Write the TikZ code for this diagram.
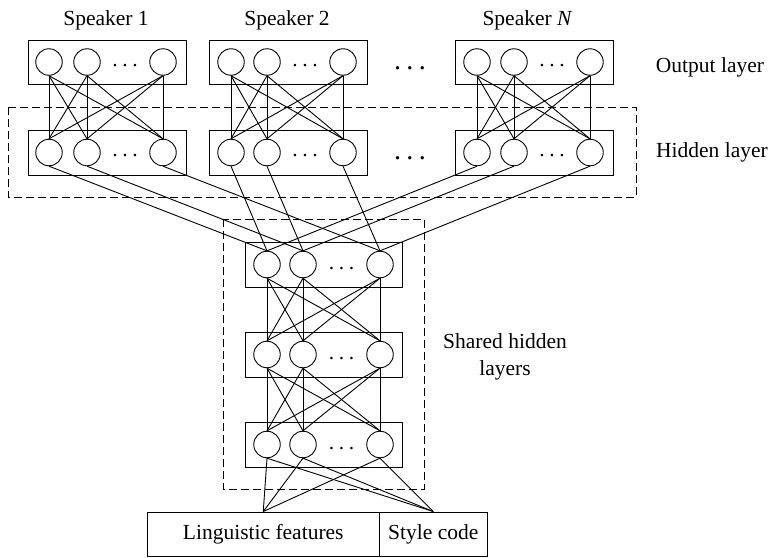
\documentclass[tikz,border=0pt]{standalone}
\usepackage{fontspec}
\setmainfont{Liberation Serif}
\newcommand{\mydots}[1]{.\kern#1.\kern#1.}
\begin{document}
\begin{tikzpicture}[x=1pt,y=-1pt,
  neuron/.style={circle,draw,minimum size=26.5pt,inner sep=0pt,line width=0.9pt,fill=white},
  layerbox/.style={draw,line width=0.9pt},
  conn/.style={line width=0.9pt},
  grp/.style={draw,dash pattern=on 8pt off 4pt,line width=0.9pt},
  lbl/.style={font=\fontsize{21.5}{27}\selectfont,inner sep=0pt},
  boxdots/.style={font=\fontsize{21.5}{25}\selectfont,inner sep=0pt},
  bigdots/.style={font=\fontsize{28}{30}\selectfont,inner sep=0pt},
  inbox/.style={draw,line width=0.9pt,minimum height=44pt,inner sep=0pt,font=\fontsize{21.5}{25}\selectfont}]
\useasboundingbox (0,0) rectangle (771,557);

% dashed groups
\draw[grp] (8,107) rectangle (636,197);
\draw[grp] (223,219) rectangle (424,489);

% speaker columns
\foreach \s/\l/\a/\b/\c in {1/28/49/87/163, 2/209/231/267/343, 3/455/477/514/590} {
  \draw[layerbox] (\l,40) rectangle ++(158,44);
  \draw[layerbox] (\l,130) rectangle ++(158,45);
  \node[neuron] (o\s a) at (\a,62) {};
  \node[neuron] (o\s b) at (\b,62) {};
  \node[neuron] (o\s c) at (\c,62) {};
  \node[neuron] (h\s a) at (\a,152.5) {};
  \node[neuron] (h\s b) at (\b,152.5) {};
  \node[neuron] (h\s c) at (\c,152.5) {};
  \node[boxdots] (od\s) at ({(\b+\c)/2},66) {\mydots{4.6pt}};
  \node[boxdots] (hd\s) at ({(\b+\c)/2},156) {\mydots{4.6pt}};
}

% shared layers
\foreach \n/\y in {t/264.5, m/354.5, b/444.5} {
  \draw[layerbox] (245,\y-22.5) rectangle (402,\y+22.5);
  \node[neuron] (\n a) at (267,\y) {};
  \node[neuron] (\n b) at (303,\y) {};
  \node[neuron] (\n c) at (380,\y) {};
  \node[boxdots] (\n d) at (341.5,\y+4) {\mydots{4.6pt}};
}

% big dots between speakers
\node[bigdots] (dots1) at (410,68) {\mydots{5.5pt}};
\node[bigdots] (dots2) at (410,158) {\mydots{5.5pt}};

% connections inside speaker columns
\foreach \s in {1,2,3} {
  \foreach \i in {a,b,c} {
    \foreach \j in {a,b,c} {
      \draw[conn] (o\s\i.south) -- (h\s\j.north);
    }
    \draw[conn] (h\s\i.south) -- (t\i.north);
  }
}

% shared connections
\foreach \i in {a,b,c} {
  \foreach \j in {a,b,c} {
    \draw[conn] (t\i.south) -- (m\j.north);
    \draw[conn] (m\i.south) -- (b\j.north);
  }
}

% input
\node[inbox,minimum width=232.5pt] (ling) at (263.25,534) {Linguistic features};
\node[inbox,minimum width=107.5pt] (style) at (433.25,534) {Style code};
\foreach \i in {a,b,c} {
  \draw[conn] (b\i.south) -- (ling.north);
  \draw[conn] (b\i.south) -- (style.north);
}

% labels
\node[lbl,anchor=base] (sp1) at (106,25) {Speaker 1};
\node[lbl,anchor=base] (sp2) at (287,25) {Speaker 2};
\node[lbl,anchor=base] (spn) at (527.5,25) {Speaker \textit{N}};
\node[lbl,anchor=base] (outl) at (710,72) {Output layer};
\node[lbl,anchor=base] (hidl) at (712,157) {Hidden layer};
\node[lbl,align=center] (shl) at (505,356.5) {Shared hidden\\layers};
\end{tikzpicture}
\end{document}
